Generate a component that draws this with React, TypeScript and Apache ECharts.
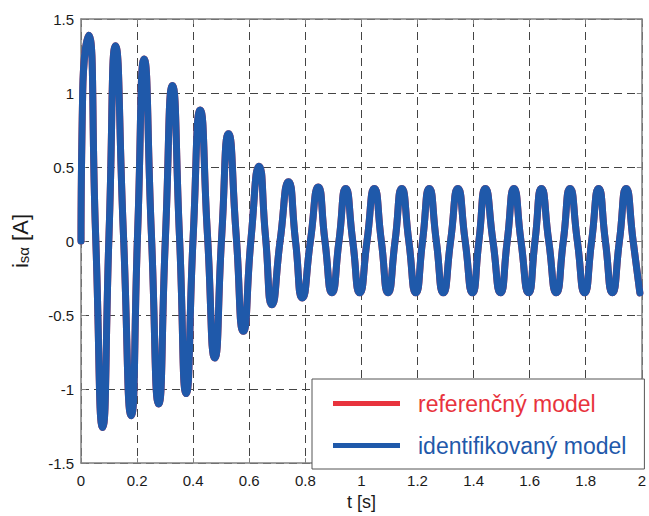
import React, { useEffect, useRef } from "react";
import * as echarts from "echarts";

// time [s]
const timeS: number[] = [
  0, 0.006, 0.027, 0.052, 0.077, 0.1, 0.123, 0.151, 0.179, 0.202,
  0.225, 0.251, 0.277, 0.301, 0.326, 0.351, 0.375, 0.4, 0.425, 0.451,
  0.477, 0.502, 0.526, 0.553, 0.579, 0.607, 0.635, 0.658, 0.681, 0.71,
  0.74, 0.765, 0.789, 0.818, 0.846, 0.87, 0.895, 0.92, 0.944, 0.969,
  0.994, 1.02, 1.046, 1.071, 1.095, 1.12, 1.144, 1.169, 1.194, 1.218,
  1.242, 1.267, 1.292, 1.318, 1.344, 1.37, 1.396, 1.419, 1.442, 1.469,
  1.496, 1.52, 1.544, 1.569, 1.596, 1.619, 1.642, 1.668, 1.695, 1.72,
  1.744, 1.77, 1.796, 1.821, 1.846, 1.87, 1.895, 1.92, 1.944, 1.969, 1.993,
];

// stator current i_sα [A]
const currentA: number[] = [
  0, 1.0, 1.39, 0.05, -1.26, 0.05, 1.32, 0.06, -1.18, 0.06,
  1.23, 0.05, -1.1, 0.02, 1.05, 0.04, -1.03, 0.03, 0.885, 0.04,
  -0.79, 0.04, 0.725, 0.05, -0.61, 0.03, 0.505, 0.03, -0.43, 0.0,
  0.4, 0.0, -0.385, 0.0, 0.365, 0.0, -0.35, 0.0, 0.355, 0.0,
  -0.35, 0.0, 0.355, 0.0, -0.35, 0.0, 0.355, 0.0, -0.35, 0.0,
  0.355, 0.0, -0.35, 0.0, 0.355, 0.0, -0.35, 0.0, 0.355, 0.0,
  -0.35, 0.0, 0.355, 0.0, -0.35, 0.0, 0.355, 0.0, -0.35, 0.0,
  0.355, 0.0, -0.35, 0.0, 0.355, 0.0, -0.35, 0.0, 0.355, 0.0, -0.35,
];

const seriesNames: string[] = ["referenčný model", "identifikovaný model"];
const seriesColors: string[] = ["#e8333d", "#1f59aa"];

const FONT = "'Liberation Sans', Arial, Helvetica, sans-serif";

export default function App() {
  const ref = useRef<HTMLDivElement>(null);

  useEffect(() => {
    document.body.style.margin = "0";
    if (!ref.current) return;
    const chart = echarts.init(ref.current, undefined, { renderer: "svg" });
    const data = timeS.map((t, i) => [t, currentA[i]]);

    const axisCommon = {
      type: "value" as const,
      axisLine: { show: true, onZero: false, lineStyle: { color: "#808080", width: 1.5 } },
      axisTick: { show: true, inside: true, length: 5, lineStyle: { color: "#808080" } },
    };

    chart.setOption({
      animation: false,
      backgroundColor: "#fff",
      grid: { left: 75, right: 4, top: 19, bottom: 48, containLabel: false },
      xAxis: [
        {
          ...axisCommon,
          min: 0,
          max: 2,
          interval: 0.2,
          name: "t [s]",
          nameLocation: "middle",
          nameGap: 25,
          nameTextStyle: { fontSize: 18, color: "#1a1a1a", fontFamily: FONT },
          axisLabel: { fontSize: 15, color: "#1a1a1a", margin: 10, fontFamily: FONT },
          splitLine: { show: true, lineStyle: { color: "#444", type: [8, 5], width: 1 } },
        },
        {
          ...axisCommon,
          position: "top",
          min: 0,
          max: 2,
          interval: 0.2,
          axisLabel: { show: false },
          splitLine: { show: false },
        },
      ],
      yAxis: [
        {
          ...axisCommon,
          min: -1.5,
          max: 1.5,
          interval: 0.5,
          name: "{i|i}{s|sα}{i| [A]}",
          nameLocation: "middle",
          nameRotate: 90,
          nameGap: 50,
          nameTextStyle: {
            color: "#1a1a1a",
            fontFamily: FONT,
            rich: {
              i: { fontSize: 22, color: "#1a1a1a", fontFamily: FONT, lineHeight: 24, verticalAlign: "bottom" },
              s: { fontSize: 15, color: "#1a1a1a", fontFamily: FONT, lineHeight: 15, verticalAlign: "bottom", padding: [8, 0, 0, 0] },
            },
          },
          axisLabel: { fontSize: 15, color: "#1a1a1a", margin: 7, fontFamily: FONT },
          splitLine: { show: true, lineStyle: { color: "#444", type: [8, 5], width: 1 } },
        },
        {
          ...axisCommon,
          position: "right",
          min: -1.5,
          max: 1.5,
          interval: 0.5,
          axisLabel: { show: false },
          splitLine: { show: false },
        },
      ],
      legend: {
        orient: "vertical",
        left: 312,
        top: 379,
        padding: [13, 18, 12, 21],
        itemWidth: 67,
        itemHeight: 5,
        itemGap: 19,
        icon: "rect",
        selectedMode: false,
        backgroundColor: "#fff",
        borderColor: "#555",
        borderWidth: 1,
        textStyle: { fontSize: 23, fontFamily: FONT, padding: [0, 0, 0, 13] },
        data: seriesNames.map((n, i) => ({ name: n, textStyle: { color: seriesColors[i] } })),
      },
      series: seriesNames.map((n, i) => ({
        name: n,
        type: "line",
        xAxisIndex: 0,
        yAxisIndex: 0,
        data,
        symbol: "none",
        showSymbol: false,
        smooth: 0.6,
        lineStyle: { width: 7, color: seriesColors[i], cap: "round", join: "round" },
        itemStyle: { color: seriesColors[i] },
        z: 2 + i,
      })),
    });

    return () => chart.dispose();
  }, []);

  return <div ref={ref} style={{ width: 649, height: 516 }} />;
}
